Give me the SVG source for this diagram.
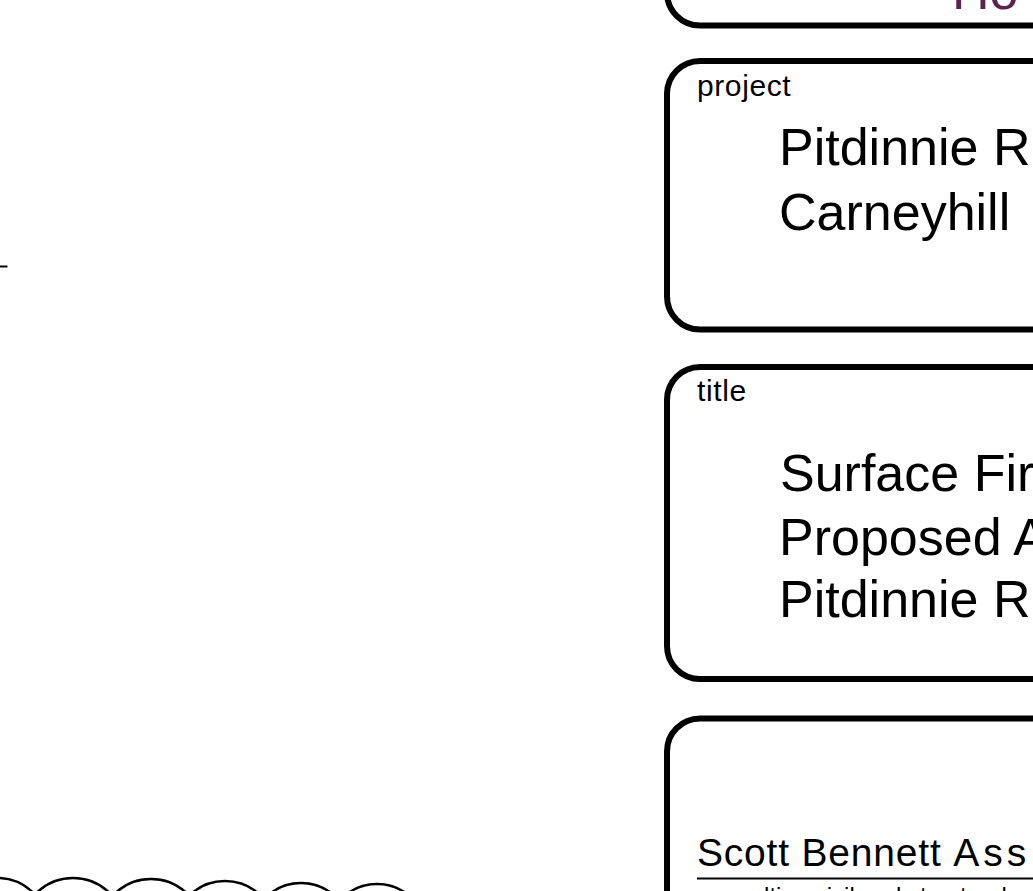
<svg xmlns="http://www.w3.org/2000/svg" width="1033" height="891" viewBox="0 0 1033 891">
<style>
.frame{fill:#fff;stroke:#000;stroke-width:6}
.lbl{font-family:"Liberation Sans",Arial,sans-serif;font-size:30px;letter-spacing:0.6px;fill:#000}
.big{font-family:"Liberation Sans",Arial,sans-serif;font-size:52px;fill:#000}
.arc{fill:none;stroke:#000;stroke-width:2.5}
</style>
<rect width="1033" height="891" fill="#fff"/>
<g id="tick"><line x1="0" y1="266.5" x2="7.5" y2="266.5" stroke="#000" stroke-width="2"/></g>
<g id="circles">
<circle class="arc" cx="-3" cy="930" r="52"/>
<circle class="arc" cx="73" cy="930" r="52"/>
<circle class="arc" cx="151" cy="931" r="52"/>
<circle class="arc" cx="225" cy="932" r="51"/>
<circle class="arc" cx="301" cy="933" r="50"/>
<circle class="arc" cx="377" cy="934" r="50"/>
</g>
<g id="box-top">
<rect class="frame" x="667" y="-300" width="500" height="325.5" rx="33"/>
<text x="952" y="9" font-family="'Liberation Sans',Arial,sans-serif" font-size="52" fill="#5c2350">Ho</text>
</g>
<g id="box-project">
<rect class="frame" x="667" y="61" width="500" height="268.5" rx="33"/>
<text class="lbl" x="697" y="96">project</text>
<text class="big" x="779" y="165">Pitdinnie R</text>
<text class="big" x="779" y="230">Carneyhill</text>
</g>
<g id="box-title">
<rect class="frame" x="667" y="367" width="500" height="312" rx="33"/>
<text class="lbl" x="697" y="401">title</text>
<text class="big" x="780" y="491">Surface Fir</text>
<text class="big" x="779" y="555">Proposed A</text>
<text class="big" x="779" y="617">Pitdinnie R</text>
</g>
<g id="box-company">
<rect class="frame" x="667" y="718.5" width="500" height="400" rx="33"/>
<text x="697" y="866" font-family="'Liberation Sans',Arial,sans-serif" font-size="39" letter-spacing="0.8" fill="#000">Scott Bennett <tspan letter-spacing="4">Ass</tspan></text>
<line x1="697" y1="878.5" x2="1033" y2="878.5" stroke="#000" stroke-width="2"/>
<text x="700" y="904" font-family="'Liberation Sans',Arial,sans-serif" font-size="24" fill="#000">consulting civil and structural engineers</text>
</g>
</svg>
